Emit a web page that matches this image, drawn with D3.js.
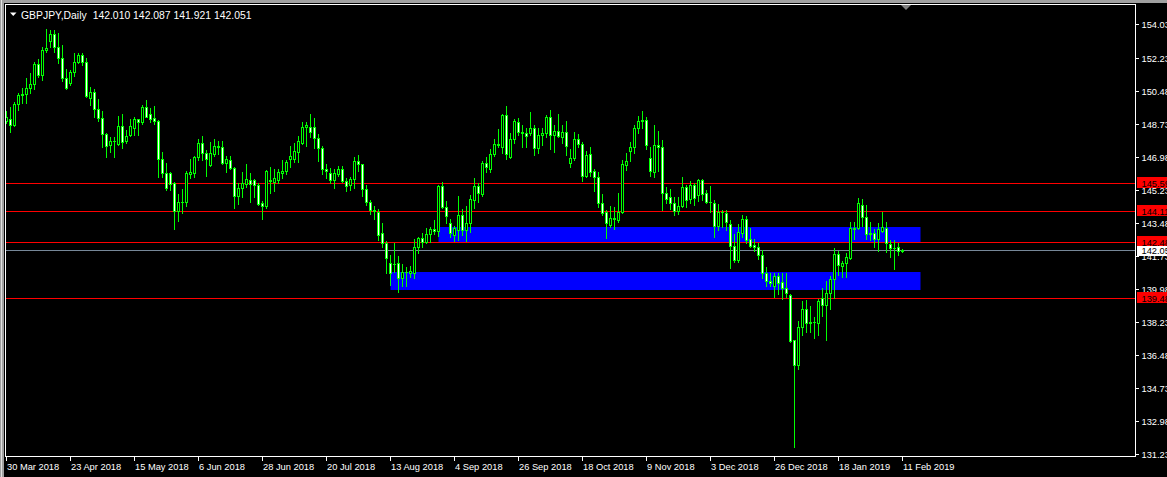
<!DOCTYPE html>
<html><head><meta charset="utf-8">
<script src="https://cdn.jsdelivr.net/npm/d3@7"></script>
<style>html,body{margin:0;padding:0;background:#000;overflow:hidden}</style>
</head><body>
<svg id="c" width="1167" height="477"></svg>
<script>
// ---- data (GBPJPY daily, bar 0 = 30 Mar 2018) ----
const opens = [148.86,148.98,148.65,149.76,150.23,150.29,150.61,150.82,151.88,151.29,152.62,153.09,153.48,152.78,152.19,151.13,150.87,151.45,151.98,152.37,
152.01,150.11,150.39,149.49,149.02,148.17,147.62,147.80,147.67,148.59,147.80,148.12,148.52,148.96,148.81,149.60,149.23,149.02,148.87,146.85,
146.11,146.11,145.58,144.11,144.60,144.60,146.05,146.11,146.95,147.69,147.16,146.54,147.13,147.55,147.48,146.63,146.81,146.37,144.92,145.31,
145.54,145.75,145.75,145.49,144.52,144.37,145.75,145.66,145.75,146.14,146.24,146.88,146.86,147.25,147.73,148.54,148.54,148.54,147.96,147.43,
146.33,146.11,145.75,146.07,146.32,145.71,145.49,145.79,146.76,146.58,145.26,144.60,144.14,144.07,142.93,142.43,141.34,141.30,141.34,140.55,
140.90,140.81,140.81,142.22,142.66,142.48,142.89,143.14,143.07,145.43,144.31,143.46,142.84,143.10,143.90,143.10,143.49,144.69,145.43,145.01,
146.63,146.33,147.13,147.64,147.51,149.19,146.98,147.91,148.84,148.31,148.22,148.26,148.49,147.43,148.13,148.22,149.10,148.13,148.36,148.04,
148.31,146.67,146.90,147.91,147.64,145.96,147.11,146.23,145.89,144.52,144.07,143.37,143.72,143.63,144.07,146.54,147.30,147.51,148.49,148.89,
148.93,146.93,146.19,147.60,147.51,145.08,144.83,144.55,144.13,144.39,145.36,144.73,145.49,144.96,145.75,145.05,144.60,144.55,143.32,144.07,
144.02,143.41,142.27,141.52,142.96,143.67,142.63,142.31,142.19,141.78,140.81,140.42,140.14,140.67,140.37,140.02,139.65,137.28,135.96,137.98,
138.92,138.20,138.25,138.20,139.49,139.13,139.75,140.49,141.82,141.20,141.34,141.61,143.19,143.19,144.43,143.81,142.89,142.93,142.63,143.07,
143.19,142.36,142.13,142.19,142.010];
const highs = [149.40,149.60,149.86,150.37,150.61,151.13,151.40,152.01,152.14,152.78,153.73,153.69,153.69,153.52,152.90,151.61,151.57,152.49,152.49,152.46,
152.19,150.69,150.55,150.04,149.42,148.22,148.04,148.04,149.14,149.25,148.40,148.98,149.10,148.98,149.72,149.99,149.55,149.67,148.93,147.25,
146.63,146.15,145.66,145.01,145.26,146.24,146.85,147.04,147.92,148.08,147.34,147.78,147.91,147.83,147.83,147.02,147.02,146.45,145.58,146.19,
146.60,146.14,145.79,145.58,144.64,146.28,146.45,146.33,146.33,146.81,146.81,147.55,147.73,148.08,148.82,148.84,149.25,149.02,148.17,147.55,
146.60,146.37,146.32,146.49,146.49,145.84,145.89,146.98,147.07,146.58,145.49,144.69,144.37,144.20,143.46,142.54,141.78,142.40,141.73,141.30,
141.16,141.20,142.61,142.72,142.93,143.19,143.25,143.63,145.49,145.63,144.64,143.67,143.32,144.90,144.20,144.37,144.94,145.84,145.58,146.76,
146.98,147.38,147.91,148.43,149.25,149.67,148.26,148.96,149.02,148.66,148.49,149.33,148.66,148.49,148.49,149.19,149.46,148.66,149.25,148.66,
148.89,147.38,148.31,148.19,147.78,147.29,147.48,146.32,146.19,145.01,144.16,144.37,144.34,145.08,146.81,147.16,147.78,148.66,149.14,149.40,
149.10,147.51,148.66,148.35,147.87,145.36,145.26,144.83,144.83,145.89,145.49,145.70,145.58,145.80,145.79,145.22,145.43,144.69,144.48,144.16,
144.16,143.63,142.89,143.41,143.90,143.85,143.19,142.61,142.40,142.05,141.13,140.84,140.84,140.84,140.81,140.84,139.70,137.28,138.30,139.36,
139.40,139.08,138.48,139.43,140.02,140.42,140.67,142.14,142.01,141.48,141.87,143.51,143.54,144.78,144.73,144.43,143.54,143.14,143.46,144.07,
143.53,142.57,142.57,142.43,142.087];
const lows = [148.75,148.31,148.61,149.46,149.84,149.81,150.34,150.57,151.19,151.04,152.54,152.78,152.54,151.96,151.01,150.57,150.78,151.27,151.93,151.84,
150.16,149.72,149.07,148.87,147.51,146.98,147.25,146.95,147.60,147.43,147.69,148.08,148.12,148.12,148.73,149.07,148.82,148.72,145.89,145.93,
145.22,145.22,143.14,143.58,144.02,144.39,145.84,145.93,146.81,146.81,145.96,146.51,147.02,147.13,146.60,146.19,146.32,144.28,144.48,144.87,
145.36,144.60,144.83,144.43,143.70,144.28,145.08,145.18,145.58,145.84,146.07,146.45,146.70,146.70,147.64,147.55,148.04,147.43,146.76,146.07,
145.87,145.61,145.34,145.96,145.66,145.18,145.22,145.31,146.24,144.90,144.43,143.95,143.70,142.57,142.22,140.81,140.19,140.90,139.84,140.14,
140.14,140.60,140.55,141.90,142.22,142.40,142.48,142.89,142.79,144.25,143.49,142.75,142.54,142.57,142.84,142.54,143.01,144.28,144.60,144.90,
146.19,146.19,147.04,147.51,147.20,146.86,146.90,147.69,148.13,147.51,147.51,148.13,147.07,147.20,147.60,148.01,147.38,147.25,148.01,147.73,
147.07,146.42,146.81,147.51,145.71,145.89,145.96,145.18,144.34,143.90,142.66,143.28,143.14,143.54,144.02,146.28,146.77,147.16,148.22,148.49,
147.38,145.96,145.93,146.23,144.16,144.52,144.20,143.90,143.95,144.34,144.31,144.52,144.43,144.66,144.69,144.52,144.07,142.75,143.10,143.25,
143.10,141.11,141.43,141.43,142.75,142.43,142.19,142.01,141.55,140.55,140.14,140.14,139.57,139.72,139.43,139.54,137.19,131.63,135.73,137.55,
137.72,137.72,137.37,137.55,138.55,137.28,138.91,139.49,140.72,140.63,140.60,141.55,142.61,143.14,143.32,142.61,142.57,142.19,142.01,143.01,
141.96,141.69,141.06,141.78,141.921];
const closes = [149.10,148.65,149.76,150.23,150.30,150.61,150.82,151.88,151.29,152.62,152.72,153.48,152.78,152.19,151.13,150.64,151.45,151.98,152.37,152.01,
150.20,150.39,149.49,149.02,148.17,147.55,147.80,147.81,148.59,147.78,148.06,148.59,148.96,148.81,149.62,149.10,149.00,148.86,146.85,146.11,
145.34,145.54,144.11,144.60,144.58,146.11,146.17,146.98,147.69,147.16,146.85,147.16,147.55,147.48,146.63,146.85,146.37,144.92,145.31,145.58,
145.79,145.54,145.49,144.48,144.37,146.23,145.70,145.84,146.16,146.23,146.72,147.02,147.29,147.80,148.54,148.65,148.31,147.96,147.43,146.32,
146.24,145.75,146.11,146.32,145.71,145.43,145.79,146.76,146.58,145.26,144.60,144.14,144.11,142.84,142.43,141.61,140.81,141.33,140.55,140.90,
140.88,140.95,142.22,142.66,142.48,142.89,143.14,143.07,145.43,144.31,143.86,142.93,143.19,143.90,143.10,143.46,144.73,145.43,145.05,146.63,
146.42,147.13,147.64,147.60,149.19,147.11,147.91,148.87,148.31,148.22,148.08,148.49,147.43,148.13,148.22,149.07,148.13,148.36,148.08,148.31,
147.55,146.90,147.91,147.64,145.96,147.07,146.19,145.89,144.52,144.02,143.46,143.72,143.67,144.07,146.60,146.76,147.51,148.49,148.89,148.93,
147.60,146.23,147.60,147.51,145.08,144.72,144.55,144.13,144.39,145.36,144.69,145.49,144.78,145.75,145.01,144.60,144.56,143.32,144.07,144.04,
143.54,142.27,141.52,142.98,143.67,142.57,142.27,142.20,141.78,140.81,140.42,140.28,140.67,140.31,140.02,139.75,137.24,135.96,137.98,138.92,
138.20,138.25,138.22,139.35,139.13,139.75,140.49,141.82,141.25,141.37,141.66,143.19,143.16,144.52,143.81,142.89,142.96,142.63,143.16,143.25,
142.40,142.13,142.17,141.98,142.051];

const dateLabels = ["30 Mar 2018","23 Apr 2018","15 May 2018","6 Jun 2018","28 Jun 2018","20 Jul 2018","13 Aug 2018","4 Sep 2018",
  "26 Sep 2018","18 Oct 2018","9 Nov 2018","3 Dec 2018","26 Dec 2018","18 Jan 2019","11 Feb 2019"];
const dateLabelBars = [0,16,32,48,64,80,96,112,128,144,160,176,192,208,224];
const priceTicks = [154.03,152.23,150.48,148.73,146.98,145.23,143.48,141.73,139.98,138.23,136.48,134.73,132.98,131.23];

const levelPrices = [145.59,144.11,142.48,139.48];
const levelLabels = ["145.59","144.11","142.48","139.48"];
const bidPrice = 142.051, bidLabel = "142.05";

const zoneStartBar = [108, 96];
const zoneEndBar = [228.5, 228.5];
const zoneTop = [143.26, 140.88];
const zoneBottom = [142.48, 139.93];

const symbolTitle = "GBPJPY,Daily";
const ohlcTitle = "142.010 142.087 141.921 142.051";

// ---- drawing ----
const W = 1167, H = 477;
const plotL = 5, plotR = 1135, plotT = 4, plotB = 456;
const svg = d3.select("#c");
const FONT = "'Liberation Sans', Arial, sans-serif";

svg.append("rect").attr("width", W).attr("height", H).attr("fill", "#000");
// window chrome
svg.append("rect").attr("x",0).attr("y",0).attr("width",W).attr("height",3).attr("fill","#a0a0a0");
svg.append("rect").attr("x",0).attr("y",0).attr("width",4).attr("height",H).attr("fill","#a0a0a0");
svg.append("rect").attr("x",1).attr("y",0).attr("width",1).attr("height",H).attr("fill","#e0e0e0");

const x = d3.scaleLinear().domain([0, 224]).range([6.5, 902.5]);
const y = d3.scaleLinear().domain([131.23, 154.03]).range([454.3, 23.6]);
const snap = v => Math.round(v) + 0.5;

const plot = svg.append("g");
plot.append("clipPath").attr("id","pc").append("rect")
  .attr("x", plotL+1).attr("y", plotT+1).attr("width", plotR-plotL-1).attr("height", plotB-plotT-1);
const g = plot.append("g").attr("clip-path","url(#pc)");

// zones
g.selectAll("rect.zone").data(zoneTop.map((t,i)=>i)).join("rect")
  .attr("x", i => Math.round(x(zoneStartBar[i])) - 0.5)
  .attr("width", i => Math.round(x(zoneEndBar[i]) - x(zoneStartBar[i])))
  .attr("y", i => Math.round(y(zoneTop[i])))
  .attr("height", i => Math.round(y(zoneBottom[i])) - Math.round(y(zoneTop[i])))
  .attr("fill", "#0000ff");

// level lines
g.selectAll("line.lvl").data(levelPrices).join("line")
  .attr("x1", plotL).attr("x2", plotR)
  .attr("y1", d => snap(y(d))).attr("y2", d => snap(y(d)))
  .attr("stroke", "#ff0000").attr("stroke-width", 1);
// bid line
g.append("line").attr("x1", plotL).attr("x2", plotR)
  .attr("y1", snap(y(bidPrice))).attr("y2", snap(y(bidPrice)))
  .attr("stroke", "#778899").attr("stroke-width", 1);

// candles
const idx = d3.range(opens.length);
const LIME = "#00ff00";
g.selectAll("line.wick").data(idx).join("line")
  .attr("x1", i => x(i)).attr("x2", i => x(i))
  .attr("y1", i => Math.round(y(highs[i]))).attr("y2", i => Math.round(y(lows[i])) + 1)
  .attr("stroke", LIME).attr("stroke-width", 1);
idx.forEach(i => {
  const o = opens[i], c = closes[i];
  const top = Math.round(y(Math.max(o, c))), bot = Math.round(y(Math.min(o, c)));
  const cx = x(i);
  if (bot - top < 1) {
    g.append("line").attr("x1", cx - 1.5).attr("x2", cx + 1.5)
      .attr("y1", top + 0.5).attr("y2", top + 0.5).attr("stroke", LIME).attr("stroke-width", 1);
  } else {
    g.append("rect").attr("x", cx - 1).attr("y", top + 0.5).attr("width", 2).attr("height", bot - top)
      .attr("fill", c < o ? "#ffffff" : "#000000").attr("stroke", LIME).attr("stroke-width", 1);
  }
});

// frame
svg.append("line").attr("x1", plotL + 0.5).attr("x2", plotL + 0.5).attr("y1", plotT).attr("y2", plotB + 1).attr("stroke", "#fff");
svg.append("line").attr("x1", plotL).attr("x2", plotR + 1).attr("y1", plotT + 0.5).attr("y2", plotT + 0.5).attr("stroke", "#fff");
svg.append("line").attr("x1", plotR + 0.5).attr("x2", plotR + 0.5).attr("y1", plotT).attr("y2", plotB + 1).attr("stroke", "#fff");
svg.append("line").attr("x1", plotL).attr("x2", plotR + 1).attr("y1", plotB + 0.5).attr("y2", plotB + 0.5).attr("stroke", "#fff");

// right price axis
const ya = svg.append("g");
priceTicks.forEach(p => {
  const yy = snap(y(p));
  ya.append("line").attr("x1", plotR + 1).attr("x2", plotR + 4).attr("y1", yy).attr("y2", yy).attr("stroke", "#fff");
  ya.append("text").attr("x", 1141.5).attr("y", yy + 3.5).attr("fill", "#fff")
    .attr("font-family", FONT).attr("font-size", "9.3px").text(p.toFixed(2));
});
// level labels
levelPrices.forEach((p, i) => {
  const yy = Math.round(y(p));
  ya.append("rect").attr("x", 1137).attr("y", yy - 6).attr("width", 30).attr("height", 11).attr("fill", "#ff0000");
  ya.append("text").attr("x", 1141.5).attr("y", yy + 3.5).attr("fill", "#000")
    .attr("font-family", FONT).attr("font-size", "9.3px").text(levelLabels[i]);
});
{
  const yy = Math.round(y(bidPrice));
  ya.append("rect").attr("x", 1137).attr("y", yy - 4).attr("width", 30).attr("height", 10).attr("fill", "#ffffff");
  ya.append("text").attr("x", 1141.5).attr("y", yy + 4).attr("fill", "#000")
    .attr("font-family", FONT).attr("font-size", "9.3px").text(bidLabel);
}

// bottom date axis
const xa = svg.append("g");
dateLabelBars.forEach((b, k) => {
  const xx = Math.round(x(b)) - 0.5;
  xa.append("line").attr("x1", xx).attr("x2", xx).attr("y1", plotB + 1).attr("y2", plotB + 5).attr("stroke", "#fff");
  xa.append("text").attr("x", xx + 0.5).attr("y", 470).attr("fill", "#fff")
    .attr("font-family", FONT).attr("font-size", "9.3px").text(dateLabels[k]);
});

// title
svg.append("path").attr("d", "M10,12.5 L16.5,12.5 L13.25,16 Z").attr("fill", "#fff");
const tt = svg.append("text").attr("x", 21).attr("y", 18.5).attr("fill", "#fff")
  .attr("font-family", FONT).attr("font-size", "10.4px");
tt.append("tspan").text(symbolTitle);
tt.append("tspan").attr("dx", 6).text(ohlcTitle);

// chart shift marker
svg.append("path").attr("d", "M901,5 L911,5 L906,10 Z").attr("fill", "#808080");
</script>
</body></html>
